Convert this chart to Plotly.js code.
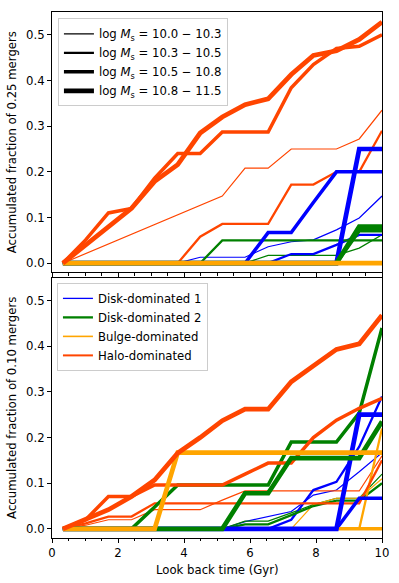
<!DOCTYPE html>
<html>
<head>
<meta charset="utf-8">
<script src="https://cdn.plot.ly/plotly-3.0.1.min.js"></script>
<style>html,body{margin:0;padding:0;background:#fff;} #chart{width:399px;height:583px;}</style>
</head>
<body>
<div id="chart"></div>
<script>
// Look-back time of the snapshots (Gyr)
const lookback = [0.33, 1.02, 1.71, 2.41, 3.11, 3.81, 4.49, 5.16, 5.85, 6.55, 7.25, 7.92, 8.62, 9.31, 10.0];

const massBins = ["10.0 − 10.3", "10.3 − 10.5", "10.5 − 10.8", "10.8 − 11.5"];
const morphNames = ["Disk-dominated 1", "Disk-dominated 2", "Bulge-dominated", "Halo-dominated"];

// Top panel: accumulated fraction of 0.25 mergers, one row per mass bin
const q25Disk1 = [
  [0,0,0,0,0,0,0.013,0.013,0.013,0.036,0.047,0.051,0.073,0.099,0.147],
  [0,0,0,0,0,0,0,0,0,0,0.02,0.02,0.04,0.062,0.062],
  [0,0,0,0,0,0,0,0,0,0.067,0.067,0.133,0.2,0.2,0.2],
  [0,0,0,0,0,0,0,0,0,0,0,0,0,0.25,0.25]
];
const q25Disk2 = [
  [0,0,0,0,0,0,0,0,0,0.017,0.017,0.017,0.017,0.033,0.062],
  [0,0,0,0,0,0,0,0.05,0.05,0.05,0.05,0.05,0.05,0.05,0.05],
  [0,0,0,0,0,0,0,0,0,0,0,0,0,0.071,0.071],
  [0,0,0,0,0,0,0,0,0,0,0,0,0,0.08,0.08]
];
const q25Bulge = [
  [0,0,0,0,0,0,0,0,0,0,0,0,0,0,0],
  [0,0,0,0,0,0,0,0,0,0,0,0,0,0,0],
  [0,0,0,0,0,0,0,0,0,0,0,0,0,0,0],
  [0,0,0,0,0,0,0,0,0,0,0,0,0,0,0]
];
const q25Halo = [
  [0,0.021,0.042,0.063,0.084,0.105,0.126,0.147,0.208,0.208,0.25,0.25,0.25,0.272,0.335],
  [0,0,0,0,0,0,0.058,0.086,0.086,0.086,0.172,0.172,0.2,0.2,0.29],
  [0,0.051,0.11,0.12,0.186,0.24,0.24,0.287,0.287,0.287,0.384,0.435,0.47,0.475,0.50],
  [0,0.04,0.08,0.12,0.179,0.216,0.285,0.32,0.347,0.36,0.413,0.455,0.465,0.49,0.528]
];

// Bottom panel: accumulated fraction of 0.10 mergers
const q10Disk1 = [
  [0,0,0,0,0,0,0,0,0.016,0.027,0.038,0.074,0.085,0.125,0.167],
  [0,0,0,0,0,0,0,0,0,0,0.02,0.085,0.103,0.18,0.29],
  [0,0,0,0,0,0,0,0,0,0,0,0,0,0.067,0.067],
  [0,0,0,0,0,0,0,0,0,0,0,0,0,0.25,0.25]
];
const q10Disk2 = [
  [0,0,0,0,0,0,0,0,0.017,0.017,0.035,0.053,0.067,0.067,0.12],
  [0,0,0,0,0,0,0,0,0.01,0.01,0.03,0.05,0.062,0.062,0.10],
  [0,0,0,0,0.048,0.096,0.096,0.096,0.096,0.096,0.19,0.19,0.19,0.254,0.44],
  [0,0,0,0,0,0,0,0,0.078,0.078,0.155,0.155,0.155,0.155,0.235]
];
const q10Bulge = [
  [0,0,0,0,0,0,0,0,0,0,0,0.053,0.067,0.067,0.11],
  [0,0,0,0,0,0,0,0,0,0,0,0,0,0,0.22],
  [0,0,0,0,0,0,0,0,0,0,0,0,0,0,0],
  [0,0,0,0,0,0.167,0.167,0.167,0.167,0.167,0.167,0.167,0.167,0.167,0.167]
];
const q10Halo = [
  [0,0.008,0.02,0.02,0.042,0.042,0.042,0.063,0.083,0.083,0.083,0.083,0.083,0.083,0.16],
  [0,0.012,0.027,0.027,0.056,0.056,0.056,0.056,0.056,0.056,0.056,0.056,0.056,0.056,0.15],
  [0,0.02,0.071,0.071,0.096,0.096,0.096,0.096,0.12,0.144,0.144,0.2,0.238,0.264,0.286],
  [0,0.02,0.042,0.071,0.107,0.166,0.2,0.237,0.262,0.262,0.322,0.357,0.393,0.405,0.468]
];

const colors = ["#0000ff", "#008000", "#ffa500", "#ff4500"];
const widths = [1.2, 2.3, 3.5, 4.7];

const panels = [
  {xa: "x", ya: "y", data: [q25Disk1, q25Disk2, q25Bulge, q25Halo]},
  {xa: "x2", ya: "y2", data: [q10Disk1, q10Disk2, q10Bulge, q10Halo]}
];

const traces = [];
panels.forEach(p => {
  for (let i = 0; i < massBins.length; i++) {
    for (let m = 0; m < morphNames.length; m++) {
      traces.push({
        x: lookback, y: p.data[m][i], xaxis: p.xa, yaxis: p.ya,
        type: "scatter", mode: "lines", showlegend: false, hoverinfo: "skip",
        line: {color: colors[m], width: widths[i]}
      });
    }
  }
});

// legend entries
massBins.forEach((mb, i) => {
  traces.push({
    x: [null], y: [null], xaxis: "x", yaxis: "y", type: "scatter", mode: "lines",
    name: "log <i>M</i><sub>s</sub> = " + mb, legend: "legend",
    line: {color: "#000", width: widths[i]}
  });
});
const legendWidths = [1.3, 2.3, 1.6, 2.0];
morphNames.forEach((nm, m) => {
  traces.push({
    x: [null], y: [null], xaxis: "x2", yaxis: "y2", type: "scatter", mode: "lines",
    name: nm, legend: "legend2",
    line: {color: colors[m], width: legendWidths[m]}
  });
});

const fontFam = "DejaVu Sans, sans-serif";
const axCommon = {
  showline: true, linecolor: "#000", linewidth: 1, mirror: true,
  showgrid: false, zeroline: false, ticks: "outside", ticklen: 4, tickwidth: 1, tickcolor: "#000"
};
const xCommon = Object.assign({}, axCommon, {
  range: [0, 10], tick0: 0, dtick: 2,
  minor: {tick0: 0, dtick: 0.5, ticks: "outside", ticklen: 2.3, tickcolor: "#000", showgrid: false}
});
const yCommon = Object.assign({}, axCommon, {range: [-0.02, 0.55], tick0: 0, dtick: 0.1, tickformat: ".1f"});

const legendCommon = {
  xanchor: "left", yanchor: "top", bgcolor: "rgba(255,255,255,0.8)",
  bordercolor: "#cccccc", borderwidth: 1, font: {family: fontFam, size: 11.7, color: "#000"},
  tracegroupgap: 0
};

const layout = {
  width: 399, height: 583,
  margin: {l: 52, r: 17, t: 12, b: 45},
  paper_bgcolor: "#fff", plot_bgcolor: "#fff",
  font: {family: fontFam, size: 11.7, color: "#000"},
  xaxis: Object.assign({}, xCommon, {domain: [0, 1], anchor: "y", showticklabels: false}),
  yaxis: Object.assign({}, yCommon, {domain: [0.5051, 1], anchor: "x"}),
  xaxis2: Object.assign({}, xCommon, {domain: [0, 1], anchor: "y2"}),
  yaxis2: Object.assign({}, yCommon, {domain: [0, 0.4949], anchor: "x2"}),
  legend: Object.assign({}, legendCommon, {x: 0.018, y: 0.988}),
  legend2: Object.assign({}, legendCommon, {x: 0.015, y: 0.485}),
  annotations: [
    {text: "Accumulated fraction of 0.25 mergers", xref: "paper", yref: "paper",
     x: -0.121, y: 0.7525, textangle: -90, showarrow: false, xanchor: "center", yanchor: "middle",
     font: {family: fontFam, size: 11.7}},
    {text: "Accumulated fraction of 0.10 mergers", xref: "paper", yref: "paper",
     x: -0.121, y: 0.2475, textangle: -90, showarrow: false, xanchor: "center", yanchor: "middle",
     font: {family: fontFam, size: 11.7}},
    {text: "Look back time (Gyr)", xref: "paper", yref: "paper",
     x: 0.5, y: -0.06, showarrow: false, xanchor: "center", yanchor: "middle",
     font: {family: fontFam, size: 11.7}}
  ],
  showlegend: true
};

Plotly.newPlot("chart", traces, layout, {staticPlot: true, displayModeBar: false});
</script>
</body>
</html>
